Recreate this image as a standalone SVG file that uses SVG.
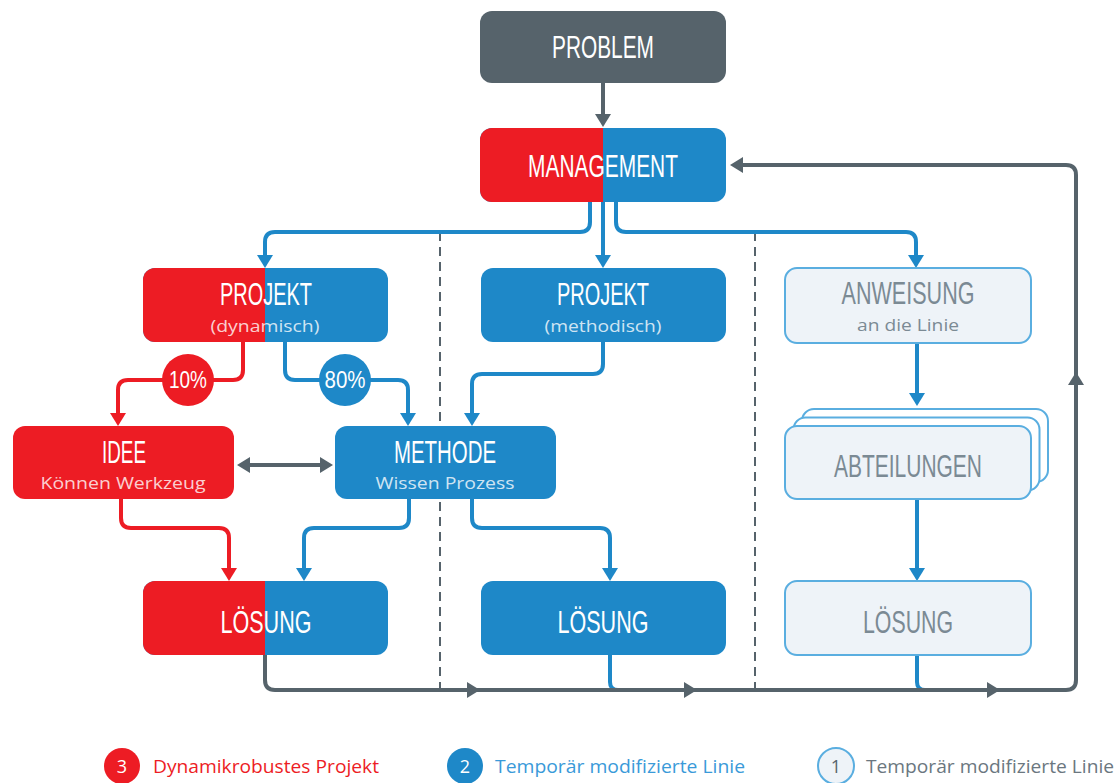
<svg xmlns="http://www.w3.org/2000/svg" width="1118" height="783" viewBox="0 0 1118 783">
<defs>
<style>
.red{fill:#ed1c24}
.blue{fill:#1e88c8}
.dark{fill:#56636b}
.light{fill:#eef3f8;stroke:#5aaee0;stroke-width:2}
.t{font-family:"Liberation Sans",Arial,sans-serif;font-size:31px;fill:#fff;text-anchor:middle}
.tg{fill:#7b8a94}
.s{font-family:"Open Sans","Liberation Sans",sans-serif;font-size:17px;fill:#fff;fill-opacity:0.8;text-anchor:middle}
.sg{fill:#7b8a94;fill-opacity:1}
.c{fill:none;stroke-width:4}
.cb{stroke:#1e88c8}
.cr{stroke:#ed1c24}
.cg{stroke:#56636b}
.div{fill:none;stroke:#56636b;stroke-width:2;stroke-dasharray:9 6}
.pct{font-family:"Liberation Sans",Arial,sans-serif;font-size:23px;fill:#fff;text-anchor:middle}
.leg{font-family:"Open Sans","Liberation Sans",sans-serif;font-size:18px}
</style>
<marker id="ab" viewBox="0 0 13 16" markerWidth="13" markerHeight="16" refX="9" refY="8" orient="auto-start-reverse" markerUnits="userSpaceOnUse"><path d="M0,0 L13,8 L0,16 Z" fill="#1e88c8"/></marker>
<marker id="ar" viewBox="0 0 13 16" markerWidth="13" markerHeight="16" refX="9" refY="8" orient="auto-start-reverse" markerUnits="userSpaceOnUse"><path d="M0,0 L13,8 L0,16 Z" fill="#ed1c24"/></marker>
<marker id="ag" viewBox="0 0 13 16" markerWidth="13" markerHeight="16" refX="9" refY="8" orient="auto-start-reverse" markerUnits="userSpaceOnUse"><path d="M0,0 L13,8 L0,16 Z" fill="#56636b"/></marker>
</defs>
<rect width="1118" height="783" fill="#fff"/>

<g id="dividers">
<path class="div" d="M440,232 L440,690"/>
<path class="div" d="M755,232 L755,690"/>
</g>

<g id="connectors">
<path class="c cg" d="M603,83 L603,123" marker-end="url(#ag)"/>
<path class="c cb" d="M590,202 L590,222 Q590,232 580,232 L275,232 Q265,232 265,242 L265,264" marker-end="url(#ab)"/>
<path class="c cb" d="M603,202 L603,264" marker-end="url(#ab)"/>
<path class="c cb" d="M616,202 L616,222 Q616,232 626,232 L906,232 Q916,232 916,242 L916,264" marker-end="url(#ab)"/>
<path class="c cr" d="M243,342 L243,370 Q243,380 233,380 L128,380 Q118,380 118,390 L118,422" marker-end="url(#ar)"/>
<path class="c cb" d="M285,342 L285,370 Q285,380 295,380 L398,380 Q408,380 408,390 L408,422" marker-end="url(#ab)"/>
<path class="c cb" d="M603,342 L603,364 Q603,374 593,374 L482,374 Q472,374 472,384 L472,422" marker-end="url(#ab)"/>
<path class="c cg" d="M241,465 L329,465" marker-start="url(#ag)" marker-end="url(#ag)"/>
<path class="c cr" d="M121,499 L121,518 Q121,528 131,528 L219,528 Q229,528 229,538 L229,577" marker-end="url(#ar)"/>
<path class="c cb" d="M409,499 L409,518 Q409,528 399,528 L314,528 Q304,528 304,538 L304,577" marker-end="url(#ab)"/>
<path class="c cb" d="M472,499 L472,518 Q472,528 482,528 L600,528 Q610,528 610,538 L610,577" marker-end="url(#ab)"/>
<path class="c cb" d="M917,343 L917,402" marker-end="url(#ab)"/>
<path class="c cb" d="M917,499 L917,577" marker-end="url(#ab)"/>
<path class="c cb" d="M610,655 L610,682 Q610,690 618,690"/>
<path class="c cb" d="M917,655 L917,682 Q917,690 925,690"/>
<path class="c cg" d="M265,655 L265,680 Q265,690 275,690 L1066,690 Q1076,690 1076,680 L1076,175 Q1076,165 1066,165 L734,165" marker-end="url(#ag)"/>
<path class="c cg" d="M468,690 L476,690" marker-end="url(#ag)"/>
<path class="c cg" d="M685,690 L693,690" marker-end="url(#ag)"/>
<path class="c cg" d="M988,690 L996,690" marker-end="url(#ag)"/>
<path class="c cg" d="M1076,384 L1076,376" marker-end="url(#ag)"/>
</g>

<g id="pct10">
<circle cx="188" cy="380" r="26" class="red"/>
<text class="pct" x="188" y="388" textLength="38" lengthAdjust="spacingAndGlyphs">10%</text>
</g>
<g id="pct80">
<circle cx="345" cy="380" r="26" class="blue"/>
<text class="pct" x="345" y="388" textLength="41" lengthAdjust="spacingAndGlyphs">80%</text>
</g>

<g id="problem">
<rect x="480" y="11" width="246" height="72" rx="12" class="dark"/>
<text class="t" x="603" y="58" textLength="102" lengthAdjust="spacingAndGlyphs">PROBLEM</text>
</g>

<g id="management">
<rect x="480" y="128" width="246" height="74" rx="12" class="blue"/>
<path class="red" d="M603,128 L492,128 A12,12 0 0 0 480,140 L480,190 A12,12 0 0 0 492,202 L603,202 Z"/>
<text class="t" x="603" y="177" textLength="150" lengthAdjust="spacingAndGlyphs">MANAGEMENT</text>
</g>

<g id="projekt-dynamisch">
<rect x="143" y="268" width="245" height="74" rx="12" class="blue"/>
<path class="red" d="M265,268 L155,268 A12,12 0 0 0 143,280 L143,330 A12,12 0 0 0 155,342 L265,342 Z"/>
<text class="t" x="266" y="305" textLength="92" lengthAdjust="spacingAndGlyphs">PROJEKT</text>
<text class="s" x="265" y="332" textLength="109" lengthAdjust="spacingAndGlyphs">(dynamisch)</text>
</g>

<g id="projekt-methodisch">
<rect x="481" y="268" width="245" height="74" rx="12" class="blue"/>
<text class="t" x="603" y="305" textLength="92" lengthAdjust="spacingAndGlyphs">PROJEKT</text>
<text class="s" x="603" y="332" textLength="117" lengthAdjust="spacingAndGlyphs">(methodisch)</text>
</g>

<g id="anweisung">
<rect x="785" y="268" width="246" height="75" rx="12" class="light"/>
<text class="t tg" x="908" y="304" textLength="133" lengthAdjust="spacingAndGlyphs">ANWEISUNG</text>
<text class="s sg" x="908" y="331" textLength="102" lengthAdjust="spacingAndGlyphs">an die Linie</text>
</g>

<g id="idee">
<rect x="13" y="426" width="221" height="73" rx="12" class="red"/>
<text class="t" x="124" y="463" textLength="44" lengthAdjust="spacingAndGlyphs">IDEE</text>
<text class="s" x="123" y="489" textLength="165" lengthAdjust="spacingAndGlyphs">Können Werkzeug</text>
</g>

<g id="methode">
<rect x="335" y="426" width="221" height="73" rx="12" class="blue"/>
<text class="t" x="445" y="463" textLength="102" lengthAdjust="spacingAndGlyphs">METHODE</text>
<text class="s" x="445" y="489" textLength="139" lengthAdjust="spacingAndGlyphs">Wissen Prozess</text>
</g>

<g id="abteilungen">
<rect x="802" y="409" width="246" height="73" rx="12" fill="#fff" stroke="#5aaee0" stroke-width="2"/>
<rect x="793.5" y="417.5" width="246" height="73" rx="12" fill="#fff" stroke="#5aaee0" stroke-width="2"/>
<rect x="785" y="426" width="246" height="73" rx="12" class="light"/>
<text class="t tg" x="908" y="477" textLength="148" lengthAdjust="spacingAndGlyphs">ABTEILUNGEN</text>
</g>

<g id="loesung-dynamisch">
<rect x="143" y="581" width="245" height="74" rx="12" class="blue"/>
<path class="red" d="M265,581 L155,581 A12,12 0 0 0 143,593 L143,643 A12,12 0 0 0 155,655 L265,655 Z"/>
<text class="t" x="266" y="633" textLength="91" lengthAdjust="spacingAndGlyphs">LÖSUNG</text>
</g>

<g id="loesung-methodisch">
<rect x="481" y="581" width="245" height="74" rx="12" class="blue"/>
<text class="t" x="603" y="633" textLength="91" lengthAdjust="spacingAndGlyphs">LÖSUNG</text>
</g>

<g id="loesung-linie">
<rect x="785" y="581" width="246" height="74" rx="12" class="light"/>
<text class="t tg" x="908" y="633" textLength="90" lengthAdjust="spacingAndGlyphs">LÖSUNG</text>
</g>

<g id="legend">
<circle cx="122" cy="766" r="18" class="red"/>
<text class="leg" x="122" y="773" fill="#fff" text-anchor="middle">3</text>
<text class="leg" x="153" y="773" fill="#ed1c24" textLength="226" lengthAdjust="spacingAndGlyphs">Dynamikrobustes Projekt</text>
<circle cx="465" cy="766" r="18" class="blue"/>
<text class="leg" x="465" y="773" fill="#fff" text-anchor="middle">2</text>
<text class="leg" x="495" y="773" fill="#3a9ad9" textLength="250" lengthAdjust="spacingAndGlyphs">Temporär modifizierte Linie</text>
<circle cx="836" cy="766" r="18" fill="#eef3f8" stroke="#5aaee0" stroke-width="2"/>
<text class="leg" x="836" y="773" fill="#56636b" text-anchor="middle">1</text>
<text class="leg" x="866" y="773" fill="#6b7780" textLength="248" lengthAdjust="spacingAndGlyphs">Temporär modifizierte Linie</text>
</g>
</svg>
